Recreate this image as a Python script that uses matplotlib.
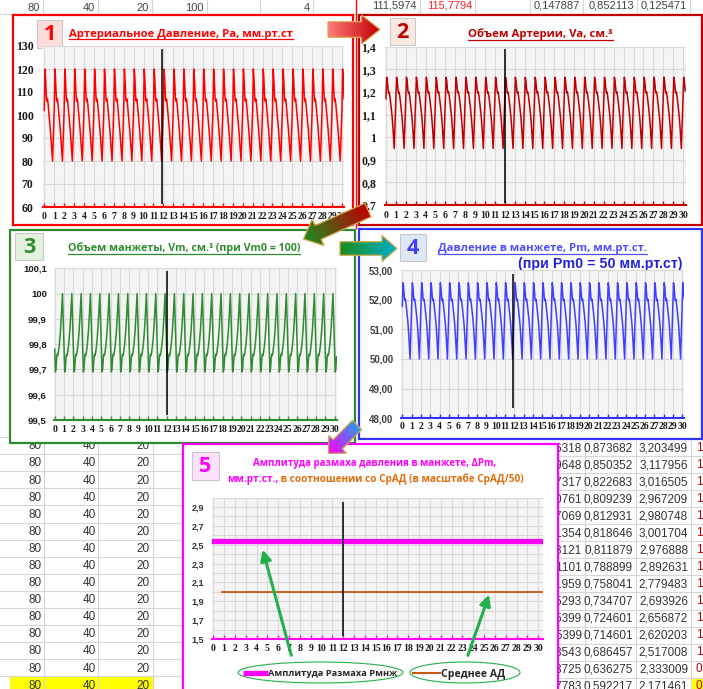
import numpy as np
import matplotlib
matplotlib.use("Agg")
import matplotlib.pyplot as plt
from matplotlib.colors import to_rgb
from matplotlib.patches import Rectangle, Polygon, Ellipse

# ── Configuration ─────────────────────────────────────────────────────────────
W, H = 703, 689
SANS = ["Open Sans", "DejaVu Sans"]
SERIF = ["Liberation Serif", "DejaVu Serif"]
CELL = ["Liberation Sans", "DejaVu Sans"]
PLOT_BG = "#F4F4F4"
GRID = "#D9D9D9"
SHEET_GRID = "#D6D6D6"

# ── Data ──────────────────────────────────────────────────────────────────────
X_LABELS = [str(i) for i in range(31)]
X_END = 30.25

# one heart beat, phase inside each unit of the x axis
BEAT_T = [0.00, 0.07, 0.13, 0.22, 0.27, 0.32, 0.38, 0.50, 0.62, 0.72, 0.83]
BEAT_PA = [102, 120, 116, 107, 106, 107, 105, 99, 93, 87, 80]
BEAT_VA = [1.17, 1.265, 1.25, 1.205, 1.195, 1.20, 1.185, 1.14, 1.09, 1.03, 0.95]
BEAT_VM = [99.78, 99.69, 99.70, 99.75, 99.76, 99.755, 99.765, 99.80, 99.855, 99.92, 100.0]
BEAT_PM = [51.78, 52.57, 52.45, 52.05, 51.97, 52.02, 51.90, 51.55, 51.15, 50.65, 50.00]

Y1_TICKS = [60, 70, 80, 90, 100, 110, 120, 130]
Y1_LABELS = ["60", "70", "80", "90", "100", "110", "120", "130"]
Y2_TICKS = [0.7, 0.8, 0.9, 1.0, 1.1, 1.2, 1.3, 1.4]
Y2_LABELS = ["0,7", "0,8", "0,9", "1", "1,1", "1,2", "1,3", "1,4"]
Y3_TICKS = [99.5, 99.6, 99.7, 99.8, 99.9, 100.0, 100.1]
Y3_LABELS = ["99,5", "99,6", "99,7", "99,8", "99,9", "100", "100,1"]
Y4_TICKS = [48, 49, 50, 51, 52, 53]
Y4_LABELS = ["48,00", "49,00", "50,00", "51,00", "52,00", "53,00"]
Y5_TICKS = [1.5, 1.6, 1.7, 1.8, 1.9, 2.0, 2.1, 2.2, 2.3, 2.4, 2.5, 2.6, 2.7, 2.8, 2.9, 3.0]
Y5_LABELS = ["1,5", "", "1,7", "", "1,9", "", "2,1", "", "2,3", "", "2,5", "", "2,7", "", "2,9", ""]

AMPLITUDE_PM = 2.54
MEAN_AP = 2.0

LEFT_ROW = ["80", "40", "20"]
N_LEFT_ROWS = 15
RIGHT_COL1 = ["0,126318", "0,149648", "0,177317", "0,190761", "0,187069", "0,181354",
              "0,188121", "0,211101", "0,241959", "0,265293", "0,275399", "0,285399",
              "0,313543", "0,363725", "0,407783"]
RIGHT_COL2 = ["0,873682", "0,850352", "0,822683", "0,809239", "0,812931", "0,818646",
              "0,811879", "0,788899", "0,758041", "0,734707", "0,724601", "0,714601",
              "0,686457", "0,636275", "0,592217"]
RIGHT_COL3 = ["3,203499", "3,117956", "3,016505", "2,967209", "2,980748", "3,001704",
              "2,976888", "2,892631", "2,779483", "2,693926", "2,656872", "2,620203",
              "2,517008", "2,333009", "2,171461"]
RIGHT_COL4 = ["1"] * 13 + ["0", "0"]
TOP_LEFT = ["80", "40", "20", "100", "", "4"]
TOP_RIGHT = ["111,5974", "115,7794", "0,147887", "0,852113", "0,125471"]

# ── Figure ────────────────────────────────────────────────────────────────────
fig = plt.figure(figsize=(W / 100, H / 100), dpi=100)
bg = fig.add_axes([0, 0, 1, 1], zorder=0)
bg.set_xlim(0, W)
bg.set_ylim(H, 0)
bg.axis("off")
renderer = fig.canvas.get_renderer()


def px_axes(x0, y0, x1, y1, z=1):
    return fig.add_axes([x0 / W, 1 - y1 / H, (x1 - x0) / W, (y1 - y0) / H], zorder=z)


def beat_series(values):
    xs, ys = [], []
    for n in range(31):
        for t, v in zip(BEAT_T, values):
            if n + t <= X_END:
                xs.append(n + t)
                ys.append(v)
    return xs, ys


def fit_text(ax, s, x0, x1, y, color, family=SANS, size=8, underline=None):
    t = ax.text((x0 + x1) / 2, y, s, ha="center", va="baseline", color=color, zorder=5,
                fontsize=size, fontfamily=family, fontweight="bold")
    w = t.get_window_extent(renderer).width
    t.set_fontsize(size * (x1 - x0) / w)
    if underline is not None:
        ax.plot([x0, x1], [underline, underline], color=color, lw=0.9, zorder=5)
    return t


# ── Spreadsheet behind the charts ─────────────────────────────────────────────
bg.plot([0, W], [14, 14], color=SHEET_GRID, lw=0.8)
for x in [43, 98, 152, 207, 260, 313, 420, 475, 530, 583, 637, 690]:
    bg.plot([x, x], [0, 14], color=SHEET_GRID, lw=0.8)
for x, s in zip([40, 95, 149, 204, 257, 310], TOP_LEFT):
    bg.text(x, 8, s, ha="right", va="center", fontsize=8, fontfamily=CELL, color="#444444")
for x, s, c in zip([417, 472, 580, 634, 687], TOP_RIGHT,
                   ["#444444", "#FF2020", "#444444", "#444444", "#444444"]):
    bg.text(x, 5, s, ha="right", va="center", fontsize=8, fontfamily=CELL, color=c)

# bottom left block
bg.add_patch(Rectangle((10, 676.3), 143, 20, fc="#FFFF00", ec="none"))
for k in range(16):
    y = 437.0 + 17.1 * k
    bg.plot([0, 183], [y, y], color=SHEET_GRID, lw=0.8)
for x in [44, 98, 153]:
    bg.plot([x, x], [440, H], color=SHEET_GRID, lw=0.8)
for k in range(N_LEFT_ROWS):
    y = 446.3 + 17.1 * k
    for x, s in zip([42, 96, 150], LEFT_ROW):
        bg.text(x, y, s, ha="right", va="center", fontsize=8.5, fontfamily=CELL, color="#333333")

# bottom right block, in its own axes so that the cut numbers are clipped at the frame
sr = px_axes(559, 441, W, H, z=0.5)
sr.set_xlim(559, W)
sr.set_ylim(H, 441)
sr.axis("off")
sr.add_patch(Rectangle((691, 677.7), 15, 20, fc="#FFFF00", ec="none"))
for k in range(16):
    y = 439.0 + 17.05 * k
    sr.plot([558, W], [y, y], color=SHEET_GRID, lw=0.8)
for x in [585, 636, 691]:
    sr.plot([x, x], [440, H], color=SHEET_GRID, lw=0.8)
for k in range(len(RIGHT_COL2)):
    y = 448.4 + 17.0 * k
    for x, col in zip([582, 633, 688], [RIGHT_COL1, RIGHT_COL2, RIGHT_COL3]):
        sr.text(x, y, col[k], ha="right", va="center", fontsize=8.5, fontfamily=CELL,
                color="#333333", clip_on=True)
    sr.text(696, y, RIGHT_COL4[k], ha="left", va="center", fontsize=8.5, fontfamily=CELL,
            color="#C00000", clip_on=True)

# ── Panel frames, badges, titles ──────────────────────────────────────────────
FRAMES = [
    ((12.7, 15, 352.7, 225), "#FF0000"),
    ((358.5, 15, 701.5, 225), "#C00000"),
    ((10, 230, 354.5, 443), "#2E8B2E"),
    ((358.5, 229, 701.5, 438.5), "#3333FF"),
    ((183, 443.5, 558, 700), "#FF00FF"),
]
for (x0, y0, x1, y1), c in FRAMES:
    bg.add_patch(Rectangle((x0, y0), x1 - x0, y1 - y0, fc="white", ec=c, lw=1.6, zorder=4))
bg.plot([356, 356], [0, 228], color="#FF0000", lw=1.0, zorder=4)

BADGES = [
    ((37, 20, 62, 48), "1", "#FDDCDC", "#FF0000"),
    ((390, 18, 415, 45), "2", "#FBE9E0", "#C00000"),
    ((15, 233, 43, 260), "3", "#E4F1DE", "#2E8B2E"),
    ((400, 234, 426, 261), "4", "#DDE7F5", "#3F3FFF"),
    ((192, 452, 219, 480), "5", "#FBE1FB", "#FF00FF"),
]
for (x0, y0, x1, y1), s, fc, c in BADGES:
    bg.add_patch(Rectangle((x0, y0), x1 - x0, y1 - y0, fc=fc, ec="#C8C8C8", lw=0.8, zorder=4.5))
    bg.text((x0 + x1) / 2, (y0 + y1) / 2 + 1, s, ha="center", va="center", fontsize=15.5,
            fontweight="bold", fontfamily=SANS, color=c, zorder=5)

fit_text(bg, "Артериальное Давление, Ра, мм.рт.ст", 69, 293, 36.5, "#FF0000", underline=39)
fit_text(bg, "Объем Артерии, Va, см.³", 468, 613, 37, "#C00000", underline=39.5)
fit_text(bg, "Объем манжеты, Vm, см.³ (при Vm0 = 100)", 68, 300, 251.5, "#2E8B2E", underline=253.5)
fit_text(bg, "Давление в манжете, Pm, мм.рт.ст.", 438, 647, 251.5, "#4F4FFF", underline=253.5)
fit_text(bg, "(при Pm0 = 50 мм.рт.ст)", 518, 683, 268, "#2222DD", family=CELL)
fit_text(bg, "Амплитуда размаха давления в манжете, ΔPm,", 252, 498, 466, "#FF00FF")
t5 = fit_text(bg, "мм.рт.ст., в соотношении со СрАД (в масштабе СрАД/50)", 227, 522, 482, "#E46C0A")
size5 = t5.get_fontsize()
t5.remove()
p1 = bg.text(227, 482, "мм.рт.ст.,", ha="left", va="baseline", color="#FF00FF", zorder=5,
             fontsize=size5, fontfamily=SANS, fontweight="bold")
w1 = p1.get_window_extent(renderer).width
bg.text(227 + w1, 482, " в соотношении со СрАД (в масштабе СрАД/50)", ha="left", va="baseline",
        color="#E46C0A", fontsize=size5, fontfamily=SANS, fontweight="bold", zorder=5)


# ── Chart panels ──────────────────────────────────────────────────────────────
def panel(rect, xlim, ylim, ticks, labels, color, lab_family, lab_size, lab_color, lab_pad, xpad):
    ax = px_axes(*rect)
    ax.set_facecolor(PLOT_BG)
    ax.set_xlim(*xlim)
    ax.set_ylim(*ylim)
    ax.set_xticks(range(31))
    ax.set_xticklabels(X_LABELS, fontfamily=SERIF, fontweight="bold", fontsize=7, color="#1A1A1A")
    ax.set_yticks(ticks)
    ax.set_yticklabels(labels, fontfamily=lab_family, fontweight="bold", fontsize=lab_size, color=lab_color)
    ax.grid(True, color=GRID, lw=0.8)
    ax.set_axisbelow(True)
    for s in ["top", "right", "left"]:
        ax.spines[s].set_visible(False)
    ax.spines["bottom"].set_color(color)
    ax.spines["bottom"].set_linewidth(1.5)
    ax.tick_params(axis="x", direction="in", length=3, width=1, color=color, pad=xpad)
    ax.tick_params(axis="y", length=0, pad=lab_pad)
    return ax


ax1 = panel((43.3, 46, 344.4, 207), (-0.1, X_END), (60, 130), Y1_TICKS, Y1_LABELS,
            "#FF0000", SERIF, 8.5, "#1A1A1A", 7.0, 3.5)
ax1.plot(*beat_series(BEAT_PA), color="#FF0000", lw=1.1)
ax1.vlines(11.9, 61.5, 128.5, color="black", lw=1.1)

ax2 = panel((385.0, 46.7, 685.5, 205), (-0.1, X_END), (0.7, 1.4), Y2_TICKS, Y2_LABELS,
            "#C00000", SERIF, 8.5, "#1A1A1A", 6.5, 4.0)
ax2.plot(*beat_series(BEAT_VA), color="#C00000", lw=1.1)
ax2.vlines(12, 0.71, 1.39, color="black", lw=1.1)

ax3 = panel((53.8, 268.3, 336.9, 420), (-0.1, X_END), (99.5, 100.1), Y3_TICKS, Y3_LABELS,
            "#2E8B2E", CELL, 6.8, "#1A1A1A", 5.0, 3.5)
ax3.plot(*beat_series(BEAT_VM), color="#2E8B2E", lw=1.1)
ax3.vlines(12, 99.52, 100.09, color="black", lw=1.1)

ax4 = panel((401.4, 270, 684.5, 418.3), (-0.1, X_END), (48, 53), Y4_TICKS, Y4_LABELS,
            "#3333FF", CELL, 7.0, "#404040", 5.8, 3.0)
ax4.plot(*beat_series(BEAT_PM), color="#3F3FFF", lw=1.1)
ax4.vlines(11.85, 48.35, 52.87, color="black", lw=1.1)

ax5 = panel((212.2, 497.6, 542.5, 639), (-0.1, 30.4), (1.5, 3.0), Y5_TICKS, Y5_LABELS,
            "#FF00FF", CELL, 6.5, "#333333", 5.8, 3.5)
ax5.axhline(AMPLITUDE_PM, color="#FF00FF", lw=3.8)
ax5.axhline(MEAN_AP, xmin=0.03, color="#C55A11", lw=1.3)
ax5.vlines(12, 1.53, 2.95, color="black", lw=1.1)

# ── Overlay: block arrows and legend ──────────────────────────────────────────
ov = fig.add_axes([0, 0, 1, 1], zorder=5)
ov.patch.set_alpha(0)
ov.axis("off")


def gradient_arrow(tail, tip, c0, c1, body_w, head_w, head_len):
    tail = np.array(tail, float)
    tip = np.array(tip, float)
    d = tip - tail
    length = np.hypot(*d)
    u = d / length
    n = np.array([-u[1], u[0]])
    base = tip - u * head_len
    pts = np.array([tail + n * body_w / 2, base + n * body_w / 2, base + n * head_w / 2, tip,
                    base - n * head_w / 2, base - n * body_w / 2, tail - n * body_w / 2])
    x0, y0 = pts.min(0) - 1
    x1, y1 = pts.max(0) + 1
    gx, gy = np.meshgrid(np.linspace(x0, x1, 120), np.linspace(y0, y1, 120))
    t = np.clip(((gx - tail[0]) * u[0] + (gy - tail[1]) * u[1]) / length, 0, 1)
    a, b = np.array(to_rgb(c0)), np.array(to_rgb(c1))
    img = a + (b - a) * t[..., None]
    im = ov.imshow(img, extent=(x0, x1, y1, y0), origin="upper", aspect="auto",
                   interpolation="bilinear", zorder=5)
    im.set_clip_path(Polygon(pts, closed=True, transform=ov.transData))
    ov.add_patch(Polygon(pts, closed=True, fc="none", ec="#D4A84B", lw=0.9, zorder=6))


gradient_arrow((328, 29.5), (380, 29.5), "#FF7A7A", "#C00000", 15.5, 29, 18.5)
gradient_arrow((368, 210), (303.5, 239), "#C00000", "#1E8C1E", 15, 29, 16)
gradient_arrow((340, 248.5), (397, 248.5), "#1E8C1E", "#00B0C8", 13.5, 26, 15)
gradient_arrow((357, 425), (328.5, 453.5), "#1EA0E6", "#FF00FF", 13, 25, 13)

GREEN = "#22B04B"
ov.annotate("", xy=(262, 547), xytext=(292, 658),
            arrowprops=dict(arrowstyle="-|>", color=GREEN, lw=2.2, mutation_scale=16))
ov.annotate("", xy=(490, 592), xytext=(467, 658),
            arrowprops=dict(arrowstyle="-|>", color=GREEN, lw=2.2, mutation_scale=16))
ov.add_patch(Ellipse((320.5, 672.5), 165, 21, fc="none", ec=GREEN, lw=0.8))
ov.add_patch(Ellipse((465, 672.5), 110, 21, fc="none", ec=GREEN, lw=0.8))
ov.plot([243, 268], [673, 673], color="#FF00FF", lw=3.8, solid_capstyle="butt")
ov.plot([413, 440], [673, 673], color="#C55A11", lw=1.5)
fit_text(ov, "Амплитуда Размаха Рмнж", 268, 397, 676.5, "#262626")
fit_text(ov, "Среднее АД", 441, 505, 676.5, "#262626")

ov.set_xlim(0, W)
ov.set_ylim(H, 0)

fig.savefig("out.png", dpi=100)
